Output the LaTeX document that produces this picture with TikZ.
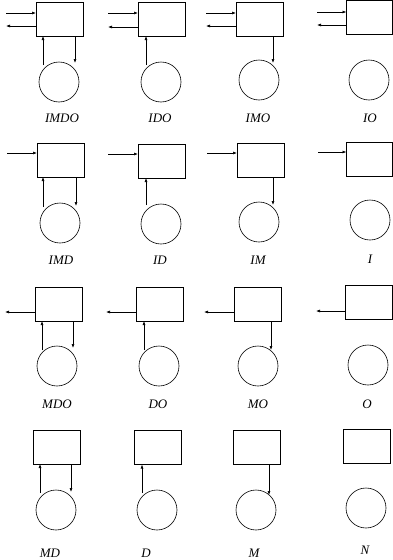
\documentclass[tikz,border=0pt]{standalone}
\usepackage{fontspec}
\setmainfont{Liberation Serif}
\usetikzlibrary{arrows.meta}
\tikzset{
  boxn/.style={draw, line width=0.6pt, inner sep=0pt, outer sep=0pt, minimum width=47pt, minimum height=34pt},
  circn/.style={draw, circle, line width=0.6pt, inner sep=0pt, outer sep=0pt, minimum size=40pt},
  lab/.style={font=\fontsize{13}{15}\selectfont\itshape, inner sep=0pt},
  arr/.style={line width=0.6pt, -{Latex[length=4pt,width=3pt]}}
}
\begin{document}
\begin{tikzpicture}[x=1pt,y=-1pt]
\useasboundingbox (0,0) rectangle (393,560);
% ---------- boxes
\node[boxn] (b11) at (59.5,19) {};
\node[boxn] (b12) at (161.5,19) {};
\node[boxn] (b13) at (259.5,19) {};
\node[boxn,minimum width=46pt] (b14) at (369.5,17) {};
\node[boxn] (b21) at (60.5,160) {};
\node[boxn] (b22) at (161.5,161) {};
\node[boxn] (b23) at (260.5,160) {};
\node[boxn,minimum width=46pt] (b24) at (369.5,159) {};
\node[boxn] (b31) at (58.5,304) {};
\node[boxn] (b32) at (159.5,304) {};
\node[boxn] (b33) at (257.5,304) {};
\node[boxn] (b34) at (368.5,302) {};
\node[boxn] (b41) at (56.5,447) {};
\node[boxn] (b42) at (157.5,447.5) {};
\node[boxn] (b43) at (256.5,447) {};
\node[boxn] (b44) at (366.5,446) {};
% ---------- circles
\node[circn] (c11) at (59,82) {};
\node[circn] (c12) at (161,82) {};
\node[circn] (c13) at (259,80) {};
\node[circn] (c14) at (369,80) {};
\node[circn] (c21) at (60,223) {};
\node[circn] (c22) at (161,224) {};
\node[circn] (c23) at (259,222) {};
\node[circn] (c24) at (370,220) {};
\node[circn] (c31) at (57,366) {};
\node[circn] (c32) at (159,366) {};
\node[circn] (c33) at (258,366) {};
\node[circn] (c34) at (368,365) {};
\node[circn] (c41) at (56,510) {};
\node[circn] (c42) at (157,510) {};
\node[circn] (c43) at (256,510) {};
\node[circn] (c44) at (366,508) {};
% ---------- labels
\node[lab] (t11) at (62,118) {IMDO};
\node[lab] (t12) at (160,118) {IDO};
\node[lab] (t13) at (258,118) {IMO};
\node[lab] (t14) at (370,118) {IO};
\node[lab] (t21) at (61,260) {IMD};
\node[lab] (t22) at (160,260) {ID};
\node[lab] (t23) at (258,260) {IM};
\node[lab] (t24) at (370,259) {I};
\node[lab] (t31) at (57,404) {MDO};
\node[lab] (t32) at (158,404) {DO};
\node[lab] (t33) at (258,404) {MO};
\node[lab] (t34) at (367,404) {O};
\node[lab] (t41) at (50,553) {MD};
\node[lab] (t42) at (146,553) {D};
\node[lab] (t43) at (254,553) {M};
\node[lab] (t44) at (365,550) {N};
% ---------- free ends
\coordinate (i11) at (6,13);   \coordinate (o11) at (6,26);
\coordinate (u11) at (43,65);  \coordinate (d11) at (75,63);
\coordinate (i12) at (108,13); \coordinate (o12) at (108,27);
\coordinate (u12) at (146,65);
\coordinate (i13) at (206,13); \coordinate (o13) at (206,26);
\coordinate (d13) at (273,63);
\coordinate (i14) at (317,12); \coordinate (o14) at (317,25);
\coordinate (i21) at (7,153);
\coordinate (u21) at (43,207); \coordinate (d21) at (76,206);
\coordinate (i22) at (108,154);
\coordinate (u22) at (146,205);
\coordinate (i23) at (207,153);
\coordinate (d23) at (273,205);
\coordinate (i24) at (318,152);
\coordinate (o31) at (5,312);
\coordinate (u31) at (42,350); \coordinate (d31) at (73,348);
\coordinate (o32) at (106,312);
\coordinate (u32) at (144,350);
\coordinate (o33) at (204,312);
\coordinate (d33) at (271,350);
\coordinate (o34) at (316,311);
\coordinate (u41) at (40,493); \coordinate (d41) at (71,492);
\coordinate (u42) at (142,493);
\coordinate (d43) at (269,495);
% ---------- arrows
\draw[arr] (i11) -- (i11 -| b11.west);
\draw[arr] (o11 -| b11.west) -- (o11);
\draw[arr] (u11) -- (u11 |- b11.south);
\draw[arr] (d11 |- b11.south) -- (d11);
\draw[arr] (i12) -- (i12 -| b12.west);
\draw[arr] (o12 -| b12.west) -- (o12);
\draw[arr] (u12) -- (u12 |- b12.south);
\draw[arr] (i13) -- (i13 -| b13.west);
\draw[arr] (o13 -| b13.west) -- (o13);
\draw[arr] (d13 |- b13.south) -- (d13);
\draw[arr] (i14) -- (i14 -| b14.west);
\draw[arr] (o14 -| b14.west) -- (o14);
\draw[arr] (i21) -- (i21 -| b21.west);
\draw[arr] (u21) -- (u21 |- b21.south);
\draw[arr] (d21 |- b21.south) -- (d21);
\draw[arr] (i22) -- (i22 -| b22.west);
\draw[arr] (u22) -- (u22 |- b22.south);
\draw[arr] (i23) -- (i23 -| b23.west);
\draw[arr] (d23 |- b23.south) -- (d23);
\draw[arr] (i24) -- (i24 -| b24.west);
\draw[arr] (o31 -| b31.west) -- (o31);
\draw[arr] (u31) -- (u31 |- b31.south);
\draw[arr] (d31 |- b31.south) -- (d31);
\draw[arr] (o32 -| b32.west) -- (o32);
\draw[arr] (u32) -- (u32 |- b32.south);
\draw[arr] (o33 -| b33.west) -- (o33);
\draw[arr] (d33 |- b33.south) -- (d33);
\draw[arr] (o34 -| b34.west) -- (o34);
\draw[arr] (u41) -- (u41 |- b41.south);
\draw[arr] (d41 |- b41.south) -- (d41);
\draw[arr] (u42) -- (u42 |- b42.south);
\draw[arr] (d43 |- b43.south) -- (d43);
\end{tikzpicture}
\end{document}
